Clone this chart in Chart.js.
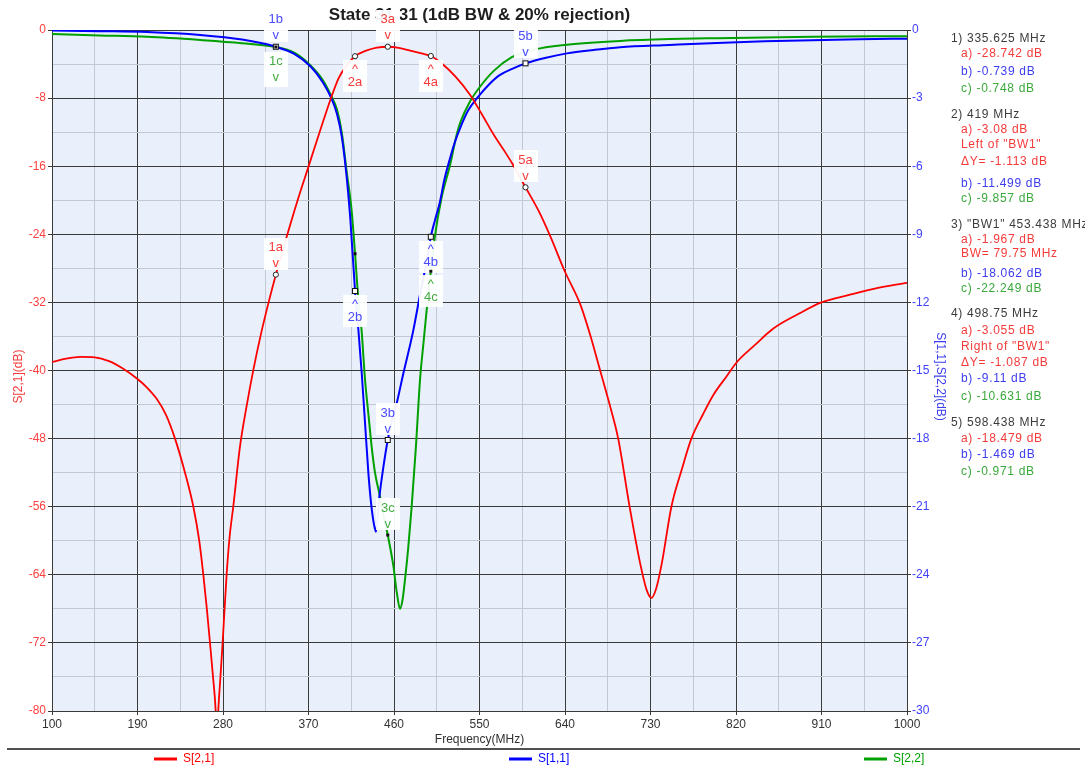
<!DOCTYPE html>
<html>
<head>
<meta charset="utf-8">
<title>State 31 31 (1dB BW &amp; 20% rejection)</title>
<script src="https://cdn.jsdelivr.net/npm/chart.js@4.4.1/dist/chart.umd.min.js"></script>
<style>
html,body{margin:0;padding:0;background:#fff;overflow:hidden;}
#wrap{position:relative;width:1085px;height:767px;overflow:hidden;}
#c{position:absolute;left:0;top:0;}
#panel{position:absolute;left:0;top:0;width:1085px;height:767px;pointer-events:none;
  font-family:"Liberation Sans",Arial,Helvetica,sans-serif;font-size:12px;letter-spacing:0.7px;}
.pl{position:absolute;white-space:nowrap;line-height:16px;height:16px;}
</style>
</head>
<body>
<div id="wrap"><canvas id="c" width="1085" height="767"></canvas><div id="panel"></div></div>
<script>
// ---------------- data ----------------
const xTicks = [100,190,280,370,460,550,640,730,820,910,1000];
const yLeftTicks = [0,-8,-16,-24,-32,-40,-48,-56,-64,-72,-80];
const yRightTicks = [0,-3,-6,-9,-12,-15,-18,-21,-24,-27,-30];

// S[2,1] (left axis, dB)
const s21Freq = [100,115,130,145,160,175,190,200,210,220,229.5,240,248.8,255,259.3,263,266.3,269.5,272.3,273.6,275,277.3,279.6,283.8,287,290.8,297.8,305,312,320,328,335.625,347,358,370,382,394,402,410,419,430,442,453.438,465,478,489,498.75,510,525,540,552,565,575,584,598.438,612,624,640,656,667,677,687,696,708,719,726,731,736,742,752,763,773,785,796,810,821,840,859,885,910,940,965,1000];
const s21Db   = [-39.0,-38.6,-38.4,-38.45,-38.9,-39.8,-41.0,-42.0,-43.3,-45.2,-48.0,-52.0,-56.0,-60.0,-64.0,-68.0,-72.0,-76.0,-80.0,-84.0,-80.0,-76.0,-72.0,-64.0,-59.5,-56.0,-49.0,-44.1,-39.9,-35.7,-32.0,-28.742,-24.3,-20.2,-16.05,-11.9,-7.9,-5.6,-4.2,-3.08,-2.45,-2.07,-1.967,-2.1,-2.45,-2.75,-3.055,-3.9,-5.5,-7.6,-9.8,-12.3,-14.0,-15.6,-18.479,-21.2,-24.1,-28.4,-32.2,-36.0,-40.0,-44.0,-48.0,-56.0,-62.6,-65.8,-66.7,-65.6,-62.6,-56.0,-51.6,-48.0,-45.2,-42.9,-40.7,-39.0,-37.0,-35.1,-33.4,-32.0,-31.1,-30.4,-29.7];

// S[1,1] (right axis, dB)
const s11Freq = [100,150,200,256,300,335.625,355,372,385,394,400,405,410,414,419,422.5,426,429.5,433,436,439,441,444.5,449,453.438,458,462.8,470,480,489,494,498.75,503,508.4,513,519,524,529.5,538,548.7,560,571.6,585,598.438,620,642,670,698,750,800,850,900,950,1000];
const s11Db   = [-0.02,-0.05,-0.09,-0.22,-0.42,-0.739,-1.05,-1.6,-2.3,-3.0,-3.7,-4.7,-6.4,-8.3,-11.499,-13.2,-15.1,-17.3,-19.5,-20.9,-21.8,-22.1,-20.6,-19.2,-18.062,-17.2,-16.45,-15.1,-13.3,-11.3,-10.3,-9.11,-8.4,-7.56,-6.6,-5.65,-4.95,-4.33,-3.55,-2.94,-2.4,-1.98,-1.7,-1.469,-1.22,-1.03,-0.88,-0.76,-0.66,-0.57,-0.5,-0.45,-0.41,-0.38];

// S[2,2] (right axis, dB)
const s22Freq = [100,150,200,256,300,335.625,355,371.6,385,394.4,400,405,410.2,415.5,419,422,426,429.5,433,436.5,440,445.3,449,453.438,459.3,463,466.3,469,471.6,475,478.6,483,487.4,491,494.4,498.75,503,510,519,526,530,540,550.5,565,584,598.438,613.7,650,698,750,800,900,1000];
const s22Db   = [-0.18,-0.24,-0.3,-0.44,-0.58,-0.748,-1.0,-1.54,-2.2,-2.94,-3.5,-4.5,-6.24,-8.0,-9.857,-11.6,-13.3,-15.4,-16.9,-18.36,-19.5,-20.56,-21.4,-22.249,-23.6,-24.8,-25.5,-25.1,-24.2,-22.8,-21.0,-18.4,-15.4,-13.8,-12.33,-10.631,-9.1,-7.4,-5.95,-4.6,-4.05,-3.15,-2.5,-1.8,-1.2,-0.971,-0.81,-0.62,-0.48,-0.4,-0.36,-0.3,-0.27];

// markers
const markerFreq = [335.625, 419, 453.438, 498.75, 598.438];
const markerA = [-28.742, -3.08, -1.967, -3.055, -18.479];
const markerB = [-0.739, -11.499, -18.062, -9.11, -1.469];
const markerC = [-0.748, -9.857, -22.249, -10.631, -0.971];
const markerNames = ['', '', '"BW1" ', '', ''];
const markerNotes = [[], ['Left of "BW1"', 'ΔY= -1.113 dB'], ['BW= 79.75 MHz'], ['Right of "BW1"', 'ΔY= -1.087 dB'], []];

const titleText = 'State 31 31 (1dB BW & 20% rejection)';
const xTitle = 'Frequency(MHz)';
const yLeftTitle = 'S[2,1](dB)';
const yRightTitle = 'S[1,1],S[2,2](dB)';

// ---------------- styles ----------------
const FONT = '"Liberation Sans", Arial, Helvetica, sans-serif';
const RED = '#ff0000', BLUE = '#0000ff', GREEN = '#00a000';
const MAJOR = '#3a3a3a', MINOR = '#c3c9d2', PLOT_BG = '#e9f0fb';
const TXT_RED = '#f53a3a', TXT_BLUE = '#3c3cf0', TXT_GREEN = '#3aa83a', TXT_DARK = '#3c3c3c';
const markerStyle = {
  a: {color: TXT_RED,  symbol: 'circle', place: ['above', 'below', 'above', 'below', 'above']},
  b: {color: '#4a4aff', symbol: 'square', place: ['above', 'below', 'above', 'below', 'above']},
  c: {color: '#45ad45', symbol: 'dot',    place: ['belowv', 'point', 'above', 'below', 'hidden']}
};
const panelY = [38,53,71,88, 114,129,144,161,183,198, 224,239,253,273,288, 313,330,346,362,378,396, 422,438,454,471];
const legendX = [154, 509, 864];

const isIn = (arr, v) => arr.some(t => Math.abs(t - v) < 1e-6);
const toXY = (fs, ds) => fs.map((f, i) => ({x: f, y: ds[i]}));

// ---------------- side panel (HTML text) ----------------
(function buildPanel() {
  const panel = document.getElementById('panel');
  const lines = [];
  markerFreq.forEach((f, i) => {
    lines.push({t: (i + 1) + ') ' + markerNames[i] + f + ' MHz', c: TXT_DARK, x: 951});
    lines.push({t: 'a) ' + markerA[i] + ' dB', c: TXT_RED, x: 961});
    markerNotes[i].forEach(n => lines.push({t: n, c: TXT_RED, x: 961}));
    lines.push({t: 'b) ' + markerB[i] + ' dB', c: TXT_BLUE, x: 961});
    lines.push({t: 'c) ' + markerC[i] + ' dB', c: TXT_GREEN, x: 961});
  });
  lines.forEach((l, k) => {
    const d = document.createElement('div');
    d.className = 'pl';
    d.textContent = l.t;
    d.style.color = l.c;
    d.style.left = l.x + 'px';
    d.style.top = (panelY[k] - 8) + 'px';
    panel.appendChild(d);
  });
})();

// ---------------- plugins ----------------
const decoPlugin = {
  id: 'deco',
  beforeDraw(chart) {
    const {ctx, chartArea: a} = chart;
    ctx.save();
    ctx.fillStyle = '#fff';
    ctx.fillRect(0, 0, chart.width, chart.height);
    ctx.fillStyle = PLOT_BG;
    ctx.fillRect(a.left, a.top, a.right - a.left, a.bottom - a.top);
    ctx.restore();
  },
  beforeDatasetsDraw(chart) {
    const {ctx, chartArea: a} = chart;
    ctx.save();
    // title
    ctx.fillStyle = '#1e1e1e';
    ctx.font = 'bold 17px ' + FONT;
    ctx.textAlign = 'center';
    ctx.textBaseline = 'middle';
    ctx.fillText(titleText, (a.left + a.right) / 2, 15);
    // x title
    ctx.font = '12px ' + FONT;
    ctx.fillStyle = '#303030';
    ctx.fillText(xTitle, (a.left + a.right) / 2, 740);
    // left title
    ctx.save();
    ctx.translate(19, (a.top + a.bottom) / 2 + 6);
    ctx.rotate(-Math.PI / 2);
    ctx.fillStyle = TXT_RED;
    ctx.fillText(yLeftTitle, 0, 0);
    ctx.restore();
    // right title
    ctx.save();
    ctx.translate(940, (a.top + a.bottom) / 2 + 6);
    ctx.rotate(Math.PI / 2);
    ctx.fillStyle = TXT_BLUE;
    ctx.fillText(yRightTitle, 0, 0);
    ctx.restore();
    // legend separator + items
    ctx.strokeStyle = '#505050';
    ctx.lineWidth = 2;
    ctx.beginPath();
    ctx.moveTo(7, 749);
    ctx.lineTo(1080, 749);
    ctx.stroke();
    ctx.textAlign = 'left';
    chart.data.datasets.forEach((ds, i) => {
      const x0 = legendX[i];
      ctx.strokeStyle = ds.borderColor;
      ctx.lineWidth = 3;
      ctx.beginPath();
      ctx.moveTo(x0, 759);
      ctx.lineTo(x0 + 23, 759);
      ctx.stroke();
      ctx.fillStyle = ds.borderColor;
      ctx.font = '12px ' + FONT;
      ctx.fillText(ds.label, x0 + 29, 759);
    });
    ctx.restore();
  },
  afterDatasetsDraw(chart) {
    const {ctx} = chart;
    const xs = chart.scales.x, yl = chart.scales.y, yr = chart.scales.y2;
    const series = {a: markerA, b: markerB, c: markerC};
    const items = [];
    Object.keys(series).forEach(k => {
      const sc = k === 'a' ? yl : yr;
      markerFreq.forEach((f, i) => {
        const place = markerStyle[k].place[i];
        if (place === 'hidden') return;
        items.push({k, i, place, px: xs.getPixelForValue(f), py: sc.getPixelForValue(series[k][i])});
      });
    });
    ctx.save();
    // label boxes (hide what is beneath them)
    ctx.fillStyle = 'rgba(255,255,255,0.94)';
    items.forEach(it => {
      if (it.place === 'point') return;
      const w = 24;
      let t, b;
      if (it.place === 'above') { t = it.py - 37; b = it.py - 5; }
      else if (it.place === 'below') { t = it.py + 4; b = it.py + 36; }
      else { t = it.py + 5; b = it.py + 40; }
      ctx.fillRect(Math.round(it.px - w / 2), Math.round(t), w, Math.round(b - t));
    });
    // marker symbols
    items.forEach(it => {
      const s = markerStyle[it.k].symbol;
      ctx.lineWidth = 1;
      if (s === 'circle') {
        ctx.beginPath();
        ctx.arc(it.px, it.py, 2.6, 0, Math.PI * 2);
        ctx.fillStyle = '#fff'; ctx.fill();
        ctx.strokeStyle = '#222'; ctx.stroke();
      } else if (s === 'square') {
        ctx.fillStyle = '#fff';
        ctx.fillRect(it.px - 2.5, it.py - 2.5, 5, 5);
        ctx.strokeStyle = '#111';
        ctx.strokeRect(it.px - 2.5, it.py - 2.5, 5, 5);
      } else {
        ctx.fillStyle = '#111';
        ctx.fillRect(it.px - 1.5, it.py - 1.5, 3, 3);
      }
    });
    // marker texts
    ctx.font = '13px ' + FONT;
    ctx.textAlign = 'center';
    ctx.textBaseline = 'middle';
    items.forEach(it => {
      if (it.place === 'point') return;
      ctx.fillStyle = markerStyle[it.k].color;
      const lab = (it.i + 1) + it.k;
      if (it.place === 'above') {
        ctx.fillText(lab, it.px, it.py - 27);
        ctx.fillText('v', it.px, it.py - 11);
      } else if (it.place === 'below') {
        ctx.fillText('^', it.px, it.py + 13);
        ctx.fillText(lab, it.px, it.py + 26);
      } else {
        ctx.fillText(lab, it.px, it.py + 14);
        ctx.fillText('v', it.px, it.py + 30);
      }
    });
    ctx.restore();
  }
};

// ---------------- chart ----------------
const gridColor = (ticks) => (c) => (c.tick && isIn(ticks, c.tick.value)) ? MAJOR : MINOR;
const tickMarkColor = (ticks) => (c) => (c.tick && isIn(ticks, c.tick.value)) ? MAJOR : 'rgba(0,0,0,0)';

new Chart(document.getElementById('c').getContext('2d'), {
  type: 'line',
  data: {
    datasets: [
      {label: 'S[2,1]', data: toXY(s21Freq, s21Db), yAxisID: 'y', borderColor: RED, backgroundColor: RED, borderWidth: 1.8, order: 0},
      {label: 'S[1,1]', data: toXY(s11Freq, s11Db), yAxisID: 'y2', borderColor: BLUE, backgroundColor: BLUE, borderWidth: 2, order: 1},
      {label: 'S[2,2]', data: toXY(s22Freq, s22Db), yAxisID: 'y2', borderColor: GREEN, backgroundColor: GREEN, borderWidth: 2, order: 2}
    ]
  },
  options: {
    responsive: false,
    animation: false,
    devicePixelRatio: 1,
    layout: {padding: {top: 30, left: 0, right: 0, bottom: 0}},
    elements: {point: {radius: 0, hoverRadius: 0}, line: {cubicInterpolationMode: 'monotone'}},
    plugins: {legend: {display: false}, title: {display: false}, tooltip: {enabled: false}},
    events: [],
    scales: {
      x: {
        type: 'linear', min: 100, max: 1000,
        afterFit: (s) => { s.height = 56; },
        ticks: {stepSize: 45, autoSkip: false, maxRotation: 0, minRotation: 0, padding: 2,
          color: '#333', font: {size: 12, family: FONT},
          callback: (v) => isIn(xTicks, v) ? String(Math.round(v)) : ''},
        grid: {color: gridColor(xTicks), tickColor: tickMarkColor(xTicks), tickLength: 4, lineWidth: 1},
        border: {color: MAJOR, width: 1}
      },
      y: {
        type: 'linear', position: 'left', min: -80, max: 0,
        afterFit: (s) => { s.width = 52; },
        ticks: {stepSize: 4, autoSkip: false, padding: 2, color: '#ff4040', font: {size: 12, family: FONT},
          callback: (v) => isIn(yLeftTicks, v) ? String(Math.round(v)) : ''},
        grid: {color: gridColor(yLeftTicks), tickColor: tickMarkColor(yLeftTicks), tickLength: 4, lineWidth: 1},
        border: {color: MAJOR, width: 1}
      },
      y2: {
        type: 'linear', position: 'right', min: -30, max: 0,
        afterFit: (s) => { s.width = 178; },
        ticks: {stepSize: 3, autoSkip: false, padding: 1, color: '#4040ff', font: {size: 12, family: FONT},
          callback: (v) => isIn(yRightTicks, v) ? String(Math.round(v)) : ''},
        grid: {drawOnChartArea: false, tickColor: MAJOR, tickLength: 4},
        border: {color: MAJOR, width: 1}
      }
    }
  },
  plugins: [decoPlugin]
});
</script>
</body>
</html>
